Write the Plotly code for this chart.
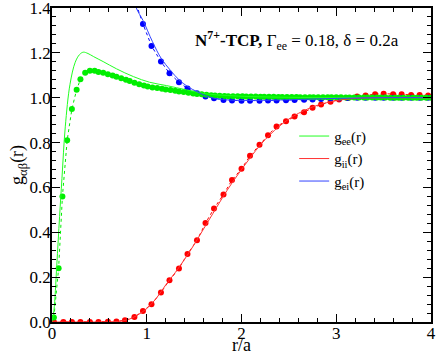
import plotly.graph_objects as go

# simulation points
r_ee_sim = [0.02, 0.07, 0.11, 0.16, 0.21, 0.26, 0.30, 0.35, 0.40, 0.45, 0.49, 0.54, 0.59, 0.64, 0.68, 0.73, 0.78, 0.82, 0.87, 0.92, 0.97,
            1.01, 1.06, 1.11, 1.16, 1.20, 1.25, 1.30, 1.34, 1.39, 1.44, 1.49, 1.53, 1.58, 1.63, 1.68, 1.72, 1.77, 1.82, 1.86, 1.91, 1.96,
            2.01, 2.05, 2.10, 2.15, 2.20, 2.24, 2.29, 2.34, 2.39, 2.43, 2.48, 2.53, 2.58, 2.62, 2.67, 2.72, 2.76, 2.81, 2.86, 2.91, 2.95,
            3.00, 3.05, 3.10, 3.14, 3.19, 3.24, 3.29, 3.33, 3.38, 3.43, 3.47, 3.52, 3.57, 3.62, 3.66, 3.71, 3.76, 3.81, 3.85, 3.90, 3.95, 4.00]
g_ee_sim = [0.02, 0.24, 0.56, 0.81, 0.95, 1.036, 1.082, 1.111, 1.12, 1.12, 1.115, 1.111, 1.105, 1.099, 1.093, 1.087, 1.080, 1.074, 1.067, 1.060, 1.054,
            1.050, 1.046, 1.043, 1.040, 1.037, 1.034, 1.031, 1.028, 1.025, 1.022, 1.019, 1.017, 1.015, 1.013, 1.011, 1.010, 1.009, 1.008, 1.007, 1.007, 1.006,
            1.006, 1.005, 1.005, 1.005, 1.004, 1.004, 1.004, 1.004, 1.003, 1.003, 1.003, 1.003, 1.003, 1.002, 1.002, 1.002, 1.002, 1.002, 1.002, 1.002, 1.002,
            1.002, 1.002, 1.001, 1.001, 1.001, 1.001, 1.001, 1.001, 1.001, 1.001, 1.001, 1.001, 1.0, 1.0, 1.0, 1.0, 1.0, 1.0, 1.0, 1.0, 1.0, 1.0]

r_sim = [0.02, 0.12, 0.21, 0.30, 0.40, 0.49, 0.59, 0.68, 0.77, 0.87, 0.96, 1.05, 1.15, 1.24, 1.34, 1.43, 1.53, 1.62, 1.71, 1.81, 1.90,
         2.00, 2.09, 2.19, 2.28, 2.37, 2.47, 2.56, 2.66, 2.75, 2.84, 2.94, 3.03, 3.12, 3.22, 3.31, 3.41, 3.50, 3.60, 3.69, 3.79, 3.88, 3.97]
g_ii_sim = [0, 0, 0, 0, 0, 0, 0.001, 0.002, 0.008, 0.022, 0.049, 0.079, 0.132, 0.186, 0.239, 0.303, 0.364, 0.441, 0.506, 0.569, 0.633,
            0.683, 0.741, 0.79, 0.833, 0.872, 0.895, 0.916, 0.935, 0.955, 0.970, 0.982, 0.992, 0.999, 1.005, 1.01, 1.016, 1.018, 1.016, 1.015, 1.012, 1.012, 1.01]
g_ei_sim = [3.9, 3.6, 3.2, 2.8, 2.45, 2.15, 1.9, 1.72, 1.57, 1.44, 1.329, 1.231, 1.161, 1.109, 1.069, 1.041, 1.02, 1.005, 0.998, 0.99, 0.988,
            0.987, 0.987, 0.987, 0.988, 0.988, 0.989, 0.99, 0.991, 0.992, 0.994, 0.996, 0.998, 0.999, 1.0, 1.0, 1.0, 1.0, 1.0, 1.0, 1.0, 1.0, 1.0]

# theory curves
r_ee_th = [0, 0.02, 0.05, 0.08, 0.105, 0.14, 0.19, 0.245, 0.29, 0.33, 0.38, 0.44, 0.54, 0.68, 0.86, 1.03, 1.21, 1.42, 1.63, 1.85, 2.1, 2.5, 3.0, 3.5, 4.0]
g_ee_th = [0, 0.05, 0.25, 0.47, 0.64, 0.87, 1.06, 1.158, 1.192, 1.203, 1.197, 1.183, 1.161, 1.129, 1.094, 1.069, 1.054, 1.035, 1.017, 1.01, 1.005, 1.002, 1.0, 1.0, 1.0]

r_ii_th = [0, 0.5, 0.6, 0.7, 0.8, 0.9, 1.0, 1.1, 1.2, 1.3, 1.4, 1.5, 1.6, 1.7, 1.8, 1.9, 2.0, 2.1, 2.2, 2.3, 2.4, 2.5, 2.6, 2.7, 2.8, 2.9, 3.0, 3.2, 3.5, 4.0]
g_ii_th = [0, 0, 0.001, 0.003, 0.01, 0.03, 0.06, 0.105, 0.165, 0.22, 0.28, 0.345, 0.415, 0.485, 0.555, 0.62, 0.68, 0.737, 0.79, 0.835, 0.873, 0.905, 0.93, 0.95, 0.966, 0.978, 0.987, 0.997, 1.0, 1.0]

r_ei_th = [0.7, 0.8, 0.89, 0.96, 1.06, 1.15, 1.25, 1.34, 1.43, 1.53, 1.62, 1.71, 1.8, 2.0, 2.3, 2.6, 3.0, 3.5, 4.0]
g_ei_th = [1.75, 1.55, 1.40, 1.345, 1.25, 1.177, 1.122, 1.08, 1.05, 1.027, 1.009, 0.998, 0.992, 0.988, 0.989, 0.992, 0.997, 1.0, 1.0]

GREEN, RED, BLUE = "#00ee00", "#ff0000", "#0000ff"
FONT = "Liberation Serif, Times New Roman, serif"

fig = go.Figure()

# simulation: dots joined by a faint dotted line
for r, g, c in [(r_sim, g_ii_sim, RED), (r_sim, g_ei_sim, BLUE), (r_ee_sim, g_ee_sim, GREEN)]:
    fig.add_trace(go.Scatter(
        x=r, y=g, mode='lines+markers', showlegend=False,
        line=dict(color=c, width=1, dash='dot'),
        marker=dict(color=c, size=6)
    ))

# theory: thin solid lines (these make the legend)
for r, g, c, name in [(r_ee_th, g_ee_th, "#22ff22", "g<sub>ee</sub>(r)"),
                      (r_ii_th, g_ii_th, "#ff3333", "g<sub>ii</sub>(r)"),
                      (r_ei_th, g_ei_th, "#3344ff", "g<sub>ei</sub>(r)")]:
    fig.add_trace(go.Scatter(
        x=r, y=g, mode='lines', name=name,
        line=dict(color=c, width=1, shape='spline')
    ))

axis_common = dict(
    showline=True, linecolor='black', linewidth=1.5, mirror='ticks',
    ticks='inside', ticklen=8, tickcolor='black', tickwidth=1,
    showgrid=False, zeroline=False, automargin=False,
    ticklabeloverflow='allow',
    tickfont=dict(family=FONT, size=17, color='black'),
)

fig.update_xaxes(
    range=[0, 4], dtick=1, tick0=0, ticklabelstandoff=-5,
    minor=dict(ticks='inside', ticklen=4, dtick=0.2, tickcolor='black', showgrid=False),
    **axis_common
)
fig.update_yaxes(
    range=[0, 1.4], dtick=0.2, tick0=0, tickformat='.1f', ticklabelstandoff=-4,
    minor=dict(ticks='inside', ticklen=4, dtick=0.04, tickcolor='black', showgrid=False),
    **axis_common
)

title_font = dict(family=FONT, size=18, color='black')
fig.add_annotation(xref='paper', yref='paper', x=0.501, y=-0.073, xanchor='center', yanchor='middle',
                   text='r/a', showarrow=False, font=title_font)
fig.add_annotation(xref='paper', yref='paper', x=-0.09, y=0.5, xanchor='center', yanchor='middle',
                   text='g<sub>αβ</sub>(r)', textangle=-90, showarrow=False, font=title_font)

fig.add_annotation(
    xref='paper', yref='paper', x=0.372, y=0.895, xanchor='left', yanchor='middle',
    text='<b>N<sup>7+</sup>-TCP,</b> Γ<sub>ee</sub> = 0.18, δ = 0.2a',
    showarrow=False, font=dict(family=FONT, size=17, color='black')
)

fig.update_layout(
    width=436, height=355,
    margin=dict(l=52, r=5, t=8, b=33),
    plot_bgcolor='white', paper_bgcolor='white',
    legend=dict(x=0.639, y=0.644, xanchor='left', yanchor='top',
                bgcolor='rgba(0,0,0,0)', font=dict(family=FONT, size=15, color='black'),
                itemwidth=30, tracegroupgap=0),
    showlegend=True,
)

# drop the page's default body margin so the figure sits at the window corner
fig.write_html("out.html", config={'displayModeBar': False},
               post_script="document.body.style.margin='0';")
